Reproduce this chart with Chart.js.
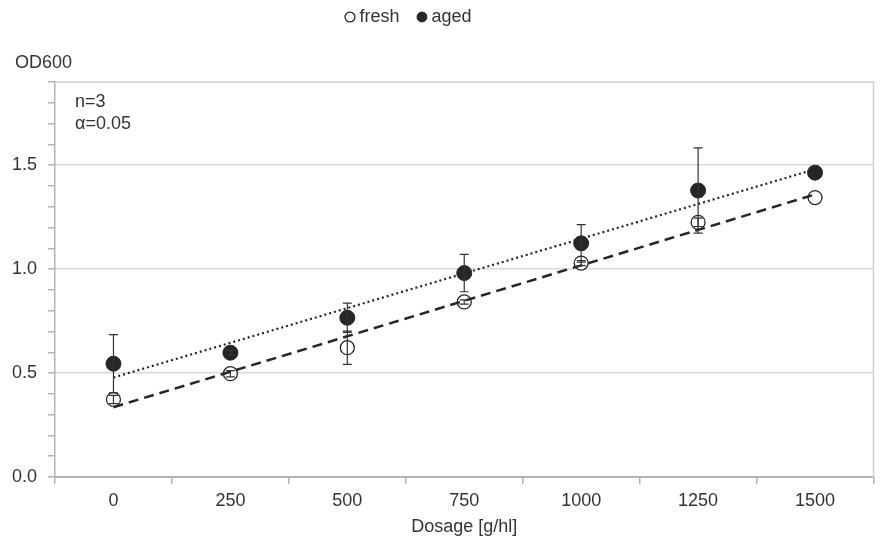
<!DOCTYPE html>
<html>
<head>
<meta charset="utf-8">
<script src="https://cdn.jsdelivr.net/npm/chart.js@4.4.1/dist/chart.umd.min.js"></script>
<style>
  html, body { margin: 0; padding: 0; background: #ffffff; }
  #wrap { width: 882px; height: 542px; }
</style>
</head>
<body>
<div id="wrap"><canvas id="chart" width="882" height="542"></canvas></div>
<script>
// Dosage levels (g/hl) on the x axis
const dosages = ['0', '250', '500', '750', '1000', '1250', '1500'];

// Mean OD600 and confidence half-widths per dosage
const freshOD = [0.373, 0.497, 0.622, 0.842, 1.029, 1.225, 1.344];
const freshErr = [0.02, 0.015, 0.08, 0.01, 0.012, 0.02, 0.0];
const agedOD = [0.545, 0.598, 0.766, 0.981, 1.124, 1.378, 1.464];
const agedErr = [0.14, 0.01, 0.07, 0.09, 0.09, 0.205, 0.0];

// Notes printed inside the plot
const notes = ['n=3', 'α=0.05'];

const INK = '#262626';
const TEXT = '#333333';
const AXIS = '#b3b3b3';
const GRID = '#d9d9d9';
const FONT = "'Liberation Sans', Arial, sans-serif";

// Least-squares linear trend evaluated at each dosage
function linearTrend(values) {
  const xs = dosages.map(Number);
  const n = xs.length;
  const mx = xs.reduce((a, b) => a + b, 0) / n;
  const my = values.reduce((a, b) => a + b, 0) / n;
  let sxy = 0, sxx = 0;
  xs.forEach((x, i) => { sxy += (x - mx) * (values[i] - my); sxx += (x - mx) * (x - mx); });
  const slope = sxy / sxx;
  const icpt = my - slope * mx;
  return xs.map(x => icpt + slope * x);
}

// Vertical error bars with caps, drawn on top of the markers
const errorBars = {
  id: 'errorBars',
  afterDatasetsDraw(chart) {
    const ctx = chart.ctx;
    const y = chart.scales.y;
    const cap = 4.5;
    ctx.save();
    ctx.strokeStyle = TEXT;
    ctx.lineWidth = 1.2;
    chart.data.datasets.forEach((ds, di) => {
      if (!ds.errors) return;
      const meta = chart.getDatasetMeta(di);
      meta.data.forEach((pt, i) => {
        const e = ds.errors[i];
        if (!e) return;
        const x = pt.x;
        const top = y.getPixelForValue(ds.data[i] + e);
        const bot = y.getPixelForValue(ds.data[i] - e);
        ctx.beginPath();
        ctx.moveTo(x, top); ctx.lineTo(x, bot);
        ctx.moveTo(x - cap, top); ctx.lineTo(x + cap, top);
        ctx.moveTo(x - cap, bot); ctx.lineTo(x + cap, bot);
        ctx.stroke();
      });
    });
    ctx.restore();
  }
};

// Light frame on the top and right of the plot area, plus the notes
const plotFrame = {
  id: 'plotFrame',
  beforeDatasetsDraw(chart) {
    const {ctx, chartArea: a} = chart;
    ctx.save();
    ctx.strokeStyle = '#d0d0d0';
    ctx.lineWidth = 1.5;
    ctx.beginPath();
    ctx.moveTo(a.left, a.top);
    ctx.lineTo(a.right, a.top);
    ctx.lineTo(a.right, a.bottom);
    ctx.stroke();
    ctx.fillStyle = TEXT;
    ctx.font = '18px ' + FONT;
    ctx.textBaseline = 'middle';
    ctx.textAlign = 'left';
    notes.forEach((t, i) => ctx.fillText(t, a.left + 20, a.top + 20 + i * 22));
    ctx.restore();
  }
};

// Place the legend row over the middle of the plot and indent the axis title
const headerPlacement = {
  id: 'headerPlacement',
  afterLayout(chart) {
    if (chart.legend) chart.legend.left -= 60;
    if (chart.titleBlock) chart.titleBlock.left += 15;
  }
};

const freshTrend = linearTrend(freshOD);
const agedTrend = linearTrend(agedOD);

new Chart(document.getElementById('chart'), {
  type: 'line',
  data: {
    labels: dosages,
    datasets: [
      {
        label: 'fresh trend', data: freshTrend,
        borderColor: INK, borderWidth: 2.5, borderDash: [10, 6],
        pointRadius: 0, fill: false, tension: 0
      },
      {
        label: 'aged trend', data: agedTrend,
        borderColor: INK, borderWidth: 2.2, borderDash: [2, 3],
        pointRadius: 0, fill: false, tension: 0
      },
      {
        label: 'fresh', data: freshOD, errors: freshErr,
        showLine: false, pointStyle: 'circle', pointRadius: 7,
        backgroundColor: '#ffffff', borderColor: INK, borderWidth: 1.3
      },
      {
        label: 'aged', data: agedOD, errors: agedErr,
        showLine: false, pointStyle: 'circle', pointRadius: 7.5,
        backgroundColor: INK, borderColor: INK, borderWidth: 1
      }
    ]
  },
  options: {
    responsive: false,
    animation: false,
    devicePixelRatio: 1,
    layout: { padding: { top: -14, left: 0, right: 1, bottom: 0 } },
    plugins: {
      legend: {
        position: 'top',
        labels: {
          usePointStyle: true, boxWidth: 1, boxHeight: 7, padding: 22,
          color: TEXT, font: { size: 18, family: FONT },
          filter: item => item.datasetIndex >= 2
        }
      },
      title: {
        display: true, text: 'OD600', align: 'start', position: 'top', weight: 500,
        color: TEXT, font: { size: 18, family: FONT, weight: 'normal' },
        padding: { top: 16.2, bottom: 8.2 }
      },
      tooltip: { enabled: false }
    },
    scales: {
      x: {
        type: 'category',
        offset: true,
        grid: { offset: true, drawOnChartArea: false, tickLength: 7, tickColor: AXIS, lineWidth: 1.5 },
        border: { color: AXIS, width: 2 },
        ticks: { color: TEXT, font: { size: 18, family: FONT }, padding: 6 },
        title: {
          display: true, text: 'Dosage [g/hl]', color: TEXT,
          font: { size: 18, family: FONT }, padding: { top: 0, bottom: 4 }
        },
        afterFit: s => { s.height = 65; s.paddingLeft = 0; s.paddingRight = 0; }
      },
      y: {
        min: 0, max: 1.9,
        grid: {
          tickLength: 7, tickColor: AXIS, lineWidth: 1.5,
          color: c => {
            const v = c.tick ? c.tick.value : 0;
            const m = Math.round(v * 10);
            return (m > 0 && m % 5 === 0) ? GRID : 'rgba(0,0,0,0)';
          }
        },
        border: { color: AXIS, width: 1.5 },
        ticks: {
          stepSize: 0.1, autoSkip: false, padding: 11,
          color: TEXT, font: { size: 18, family: FONT },
          callback: v => (Math.round(v * 10) % 5 === 0 ? v.toFixed(1) : '')
        },
        afterFit: s => { s.width = 55; }
      }
    }
  },
  plugins: [errorBars, plotFrame, headerPlacement]
});
</script>
</body>
</html>
